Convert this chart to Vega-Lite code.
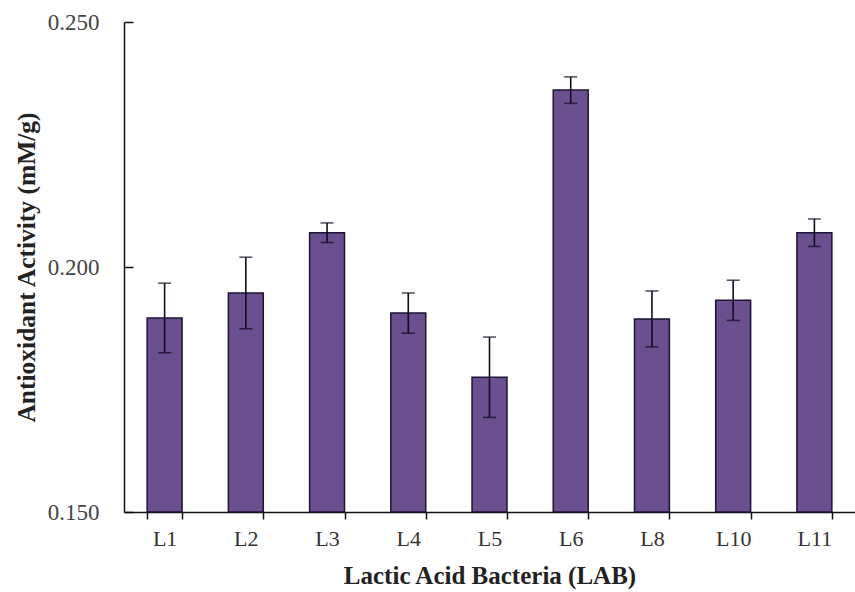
{
  "$schema": "https://vega.github.io/schema/vega-lite/v6.json",
  "autosize": "none",
  "width": 731,
  "height": 490,
  "padding": {"left": 124, "top": 22, "right": 0, "bottom": 80},
  "background": "white",
  "config": {
    "view": {"stroke": null},
    "font": "Liberation Serif"
  },
  "data": {
    "values": [
      {"strain": "L1", "activity": 0.1896, "sd": 0.0071},
      {"strain": "L2", "activity": 0.1947, "sd": 0.0073},
      {"strain": "L3", "activity": 0.2070, "sd": 0.0020},
      {"strain": "L4", "activity": 0.1906, "sd": 0.0041},
      {"strain": "L5", "activity": 0.1775, "sd": 0.0082},
      {"strain": "L6", "activity": 0.2361, "sd": 0.0027},
      {"strain": "L8", "activity": 0.1894, "sd": 0.0057},
      {"strain": "L10", "activity": 0.1932, "sd": 0.0041},
      {"strain": "L11", "activity": 0.2070, "sd": 0.0028}
    ]
  },
  "encoding": {
    "x": {
      "field": "strain",
      "type": "nominal",
      "sort": null,
      "scale": {"paddingInner": 0.57, "paddingOuter": 0.285},
      "axis": {
        "title": "Lactic Acid Bacteria (LAB)",
        "titleFont": "Liberation Serif",
        "titleFontSize": 25,
        "titleFontWeight": "bold",
        "titleColor": "#222",
        "titlePadding": 14,
        "labelFont": "Liberation Serif",
        "labelFontSize": 22,
        "labelColor": "#333",
        "labelAngle": 0,
        "labelPadding": 9,
        "tickBand": "extent",
        "tickSize": 7,
        "tickColor": "#111",
        "tickWidth": 1.5,
        "domainColor": "#111",
        "domainWidth": 1.5,
        "grid": false
      }
    },
    "y": {
      "field": "activity",
      "type": "quantitative",
      "title": "Antioxidant Activity (mM/g)",
      "scale": {"domain": [0.15, 0.25], "zero": false, "clamp": true},
      "axis": {
        "titleFont": "Liberation Serif",
        "titleFontSize": 25.5,
        "titleFontWeight": "bold",
        "titleColor": "#222",
        "titlePadding": 8,
        "values": [0.15, 0.2, 0.25],
        "format": ".3f",
        "labelFont": "Liberation Serif",
        "labelFontSize": 23,
        "labelColor": "#444",
        "labelPadding": 34,
        "tickSize": -9,
        "tickColor": "#111",
        "tickWidth": 1.5,
        "domainColor": "#111",
        "domainWidth": 1.5,
        "grid": false
      }
    }
  },
  "layer": [
    {
      "mark": {"type": "bar", "color": "#6b4f8e", "stroke": "#1c1433", "strokeWidth": 1.5}
    },
    {
      "mark": {
        "type": "errorbar",
        "color": "#120c22",
        "rule": {"strokeWidth": 1.6},
        "ticks": {"size": 13, "thickness": 1.6}
      },
      "encoding": {
        "yError": {"field": "sd"}
      }
    }
  ]
}
